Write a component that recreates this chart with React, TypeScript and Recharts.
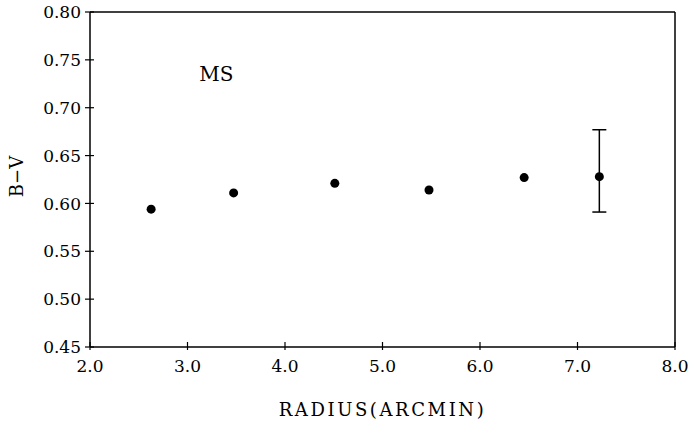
import React from 'react';
import {
  ScatterChart,
  Scatter,
  XAxis,
  YAxis,
  ErrorBar,
  ReferenceLine,
  ReferenceDot,
  Label,
} from 'recharts';

// B-V colour of main-sequence stars vs. radius
const radius = [2.627, 3.473, 4.511, 5.477, 6.453];
const bv = [0.594, 0.611, 0.621, 0.614, 0.627];

// outermost bin, the only one drawn with an error bar
const outerRadius = [7.224];
const outerBv = [0.628];
const outerErrLow = [0.037];
const outerErrHigh = [0.049];

const xTicks = [2, 3, 4, 5, 6, 7, 8];
const yTicks = [0.45, 0.5, 0.55, 0.6, 0.65, 0.7, 0.75, 0.8];

const FONT = '"DejaVu Serif", serif';

const points = radius.map((r, i) => ({ x: r, y: bv[i] }));
const outerPoints = outerRadius.map((r, i) => ({
  x: r,
  y: outerBv[i],
  err: [outerErrLow[i], outerErrHigh[i]],
}));

const Dot = (props: any) => <circle cx={props.cx} cy={props.cy} r={4.5} fill="#000" />;

const YTick = ({ x, y, payload }: any) => (
  <g>
    <line x1={x - 5} x2={x + 4} y1={y} y2={y} stroke="#000" strokeWidth={1.2} />
    <text x={x - 9} y={y} dy="0.36em" textAnchor="end" fontFamily={FONT} fontSize={17} fill="#000">
      {payload.value.toFixed(2)}
    </text>
  </g>
);

const XTick = ({ x, y, payload }: any) => (
  <g>
    <line x1={x} x2={x} y1={y - 5} y2={y + 3} stroke="#000" strokeWidth={1.2} />
    <text x={x} y={y + 25} textAnchor="middle" fontFamily={FONT} fontSize={17} fill="#000">
      {payload.value.toFixed(1)}
    </text>
  </g>
);

export default function App() {
  return (
    <div style={{ position: 'absolute', left: 0, top: 0, background: '#fff' }}>
      <ScatterChart width={689} height={422} margin={{ top: 12, right: 14, bottom: 45, left: 0 }}>
        <XAxis
          type="number"
          dataKey="x"
          domain={[2, 8]}
          ticks={xTicks}
          allowDataOverflow
          height={30}
          tickSize={0}
          tickMargin={0}
          tick={<XTick />}
          axisLine={{ stroke: '#000', strokeWidth: 1.5 }}
          tickLine={false}
        >
          <Label
            content={({ viewBox }: any) => (
              <text
                x={viewBox.x + viewBox.width / 2}
                y={viewBox.y + 69}
                textAnchor="middle"
                fontFamily={FONT}
                fontSize={18}
                letterSpacing={2.6}
                fill="#000"
              >
                RADIUS(ARCMIN)
              </text>
            )}
          />
        </XAxis>
        <YAxis
          type="number"
          dataKey="y"
          domain={[0.45, 0.8]}
          ticks={yTicks}
          allowDataOverflow
          width={90}
          tickSize={0}
          tickMargin={0}
          tick={<YTick />}
          axisLine={{ stroke: '#000', strokeWidth: 1.5 }}
          tickLine={false}
        >
          <Label
            content={({ viewBox }: any) => {
              const cy = viewBox.y + viewBox.height / 2 - 3;
              return (
                <text
                  x={23}
                  y={cy}
                  transform={`rotate(-90, 23, ${cy})`}
                  textAnchor="middle"
                  fontFamily={FONT}
                  fontSize={18}
                  fill="#000"
                >
                  B−V
                </text>
              );
            }}
          />
        </YAxis>
        <ReferenceLine y={0.8} stroke="#000" strokeWidth={1.5} />
        <ReferenceLine x={8} stroke="#000" strokeWidth={1.5} />
        <ReferenceDot
          x={3.295}
          y={0.735}
          r={0}
          stroke="none"
          label={{ value: 'MS', position: 'center', fontFamily: FONT, fontSize: 20, fill: '#000' }}
        />
        <Scatter data={points} shape={<Dot />} isAnimationActive={false} />
        <Scatter data={outerPoints} shape={<Dot />} isAnimationActive={false}>
          <ErrorBar dataKey="err" direction="y" width={7} stroke="#000" strokeWidth={1.5} />
        </Scatter>
      </ScatterChart>
    </div>
  );
}
